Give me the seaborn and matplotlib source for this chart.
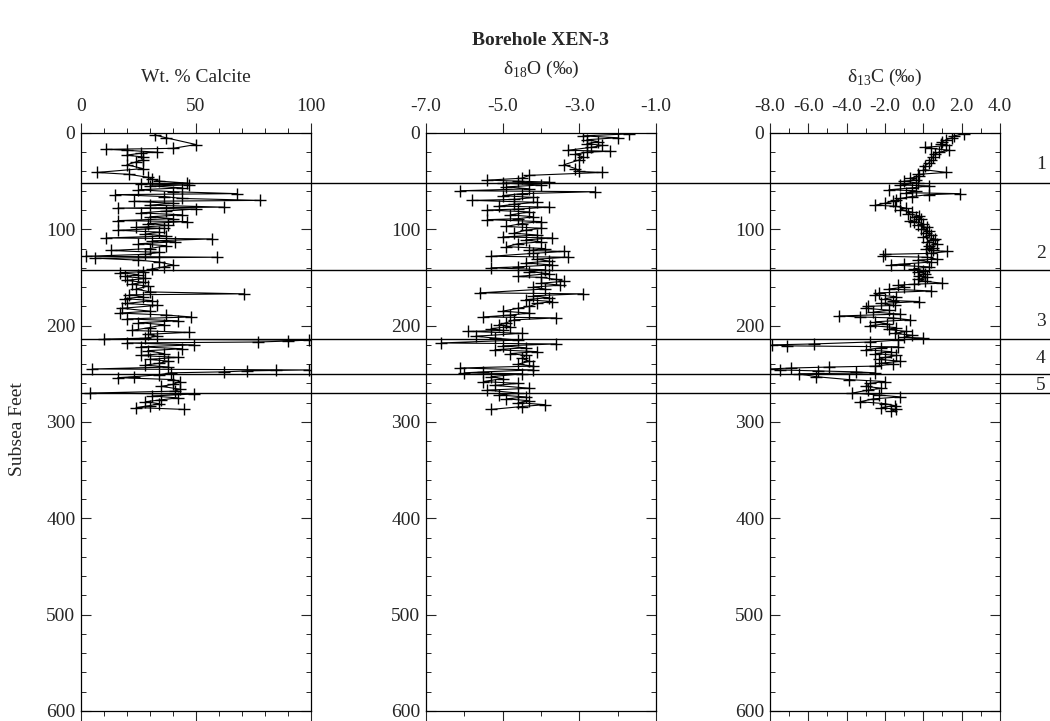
import numpy as np
import pandas as pd
import matplotlib
matplotlib.use("Agg")
import matplotlib.pyplot as plt
import matplotlib.transforms as mtransforms
from matplotlib.lines import Line2D
from matplotlib.ticker import MultipleLocator
import seaborn as sns

# Data
calcite_depth = [2, 5, 12, 16, 17, 18, 20, 21, 23, 25, 28, 30, 33, 37, 41, 43, 46, 48, 50,
                 52, 53, 54, 55, 57, 59, 61, 63, 64, 66, 68, 70, 71, 73, 75, 77, 78, 79, 81,
                 83, 85, 87, 89, 91, 92, 94, 96, 98, 99, 101, 103, 105, 107, 109, 110, 112,
                 113, 115, 117, 120, 122, 124, 126, 128, 129, 130, 132, 134, 137, 139, 141,
                 144, 145, 147, 149, 151, 153, 155, 157, 159, 162, 165, 167, 168, 170, 172,
                 174, 177, 179, 182, 185, 187, 189, 191, 193, 195, 197, 199, 202, 205, 207,
                 209, 211, 213, 214, 215, 216, 217, 218, 220, 222, 224, 226, 229, 231, 233,
                 235, 237, 239, 241, 243, 245, 246, 246.5, 247, 248, 249, 251, 253, 254, 256,
                 258, 261, 263, 266, 268, 270, 271, 273, 275, 277, 279, 281, 283, 285, 287]
calcite_pct = [32, 37, 50, 40, 11, 20, 33, 26, 20, 27, 27, 24, 20, 27, 7, 21, 29, 31, 34,
               46, 26, 47, 30, 44, 25, 40, 68, 15, 36, 44, 78, 23, 40, 30, 62, 16, 50, 37,
               26, 44, 30, 40, 16, 46, 29, 38, 24, 36, 16, 34, 28, 37, 11, 57, 31,
               41, 25, 37, 30, 13, 34, 28, 2, 59, 6, 25, 34, 40, 36, 31,
               27, 17, 25, 19, 28, 20, 27, 22, 29, 24, 30, 71, 21, 27, 19,
               31, 20, 33, 18, 30, 17, 37, 48, 20, 42, 25, 36, 30, 22, 47,
               29, 33, 28, 10, 99, 90, 77, 20, 49, 26, 44, 29, 36, 26, 42,
               30, 38, 34, 28, 38, 5, 99, 85, 72, 62, 39, 34, 23, 16, 40,
               43, 40, 35, 43, 41, 4, 49, 31, 42, 35, 28, 34, 30, 24, 45]

d18o_depth = [1, 3, 5, 7, 9, 11, 13, 15, 18, 19, 20, 22, 25, 28, 33, 37, 40, 41, 44, 47,
              49, 50, 51, 52, 54, 56, 58, 60, 61, 63, 65, 67, 69, 70, 72, 74, 76, 77, 79,
              80, 82, 85, 87, 89, 90, 92, 94, 97, 99, 101, 104, 106, 108, 109, 111, 113,
              115, 118, 120, 122, 123, 125, 128, 129, 131, 133, 135, 137, 139, 140, 142,
              144, 146, 149, 150, 152, 154, 156, 158, 160, 162, 166, 167, 169, 171, 173,
              175, 177, 180, 182, 185, 187, 189, 191, 192, 194, 197, 199, 201, 203, 205,
              206, 208, 211, 213, 215, 218, 219, 221, 223, 225, 227, 229, 231, 234, 237,
              240, 242, 244, 246, 248, 249, 250, 253, 255, 258, 260, 262, 265, 267, 270,
              272, 274, 276, 278, 280, 282, 284, 287]
d18o = [-1.7, -2.9, -2.0, -2.8, -2.5, -2.8, -2.4, -2.7, -3.3, -2.2, -2.8, -3.1, -2.9, -3.0,
        -3.4, -3.1, -3.0, -2.4, -4.3, -4.5, -5.4, -4.6, -3.8, -5.0, -4.0, -4.9, -4.3, -6.1,
        -2.6, -4.5, -5.0, -4.2, -4.7, -5.8, -4.1, -4.7, -5.1, -3.8, -4.6, -5.4, -4.3, -4.8,
        -4.2, -4.6, -5.4, -4.0, -4.5, -4.9, -4.0, -4.4, -4.7, -4.1, -5.0, -3.7, -4.4, -4.0,
        -4.6, -4.9, -3.9, -4.3, -3.4, -4.2, -5.3, -3.3, -4.1, -3.8, -4.4, -3.7, -4.6, -5.3,
        -3.9, -4.3, -3.8, -4.6, -4.0, -3.6, -3.4, -4.0, -3.5, -4.2, -3.9, -5.6, -2.9, -4.2,
        -3.8, -4.4, -3.7, -4.1, -4.3, -4.6, -5.0, -4.3, -4.8, -5.5, -3.6, -4.7, -4.9, -5.1,
        -4.8, -5.3, -5.0, -5.9, -4.5, -5.7, -5.2, -4.6, -6.6, -3.6, -5.0, -4.4, -5.2, -4.1,
        -4.8, -4.4, -4.5, -4.3, -4.6, -4.2, -6.1, -4.2, -5.5, -6.0, -4.5, -5.3, -5.0, -5.5,
        -4.6, -5.2, -4.3, -5.4, -4.6, -5.1, -4.4, -4.9, -4.3, -4.6, -3.9, -4.5, -5.3]

d13c_depth = [1, 3, 5, 7, 9, 11, 13, 15, 16, 18, 20, 22, 25, 28, 31, 34, 38, 41, 43, 45,
              47, 49, 50, 52, 54, 55, 57, 59, 60, 62, 63, 64, 66, 68, 70, 71, 73, 75, 76,
              78, 80, 82, 84, 86, 87, 89, 91, 92, 94, 96, 98, 100, 102, 104, 106, 108, 110,
              111, 113, 115, 117, 119, 120, 122, 123, 125, 126, 128, 129, 131, 132, 134,
              136, 137, 139, 141, 143, 144, 146, 148, 150, 152, 154, 156, 157, 158, 160,
              162, 164, 166, 168, 170, 172, 174, 175, 177, 179, 180, 182, 184, 186, 188,
              190, 191, 192, 194, 196, 198, 200, 202, 204, 206, 208, 210, 212, 213, 215,
              217, 219, 220, 221, 222, 223, 225, 227, 229, 231, 233, 235, 237, 239, 240,
              242, 243, 244, 245, 246, 247, 248, 249, 250, 253, 256, 258, 260, 263, 265,
              267, 270, 272, 274, 276, 279, 281, 283, 285, 287, 289]
d13c = [2.1, 1.6, 1.5, 1.2, 1.0, 0.9, 1.2, 0.1, 0.4, 1.35, 0.8, 0.6, 0.5, 0.4, 0.3, 0.1,
        0.0, 1.2, -0.3, -0.2, -0.7, -0.4, -1.0, -0.3, -1.2, 0.3, -0.6, -1.8, -0.4, -0.9,
        1.9, 0.3, -0.6, -1.2, -1.4, -1.6, -2.0, -2.5, -1.5, -0.9, -1.2, -0.6, -0.8, -0.2,
        -0.4, -0.1, -0.7, -0.5, 0.0, -0.3, 0.2, -0.1, 0.3, 0.15, 0.4, 0.0, 0.6, 0.5, 0.2,
        0.7, 0.3, 0.5, 0.15, 0.5, 1.25, 0.4, -2.0, -2.1, 0.2, 0.7, -0.3, 0.4, -1.0, -1.7,
        0.3, -0.5, 0.0, -0.3, 0.1, -0.2, 0.2, -0.3, 0.1, 1.0, -0.5, -1.3, -1.0, -1.8, 0.4,
        -2.3, -2.5, -1.4, -2.0, -1.6, -0.2, -2.2, -1.5, -2.9, -3.0, -1.8, -2.6, -1.2, -4.4,
        -3.3, -1.6, -0.7, -2.5, -1.9, -2.8, -1.4, -1.8, -0.9, -1.5, -0.6, -1.0, 0.0, -1.3,
        -2.8, -5.7, -7.9, -7.1, -1.3, -2.2, -3.0, -1.7, -2.5, -1.4, -2.0, -2.3, -1.2, -2.2,
        -1.6, -2.5, -4.9, -6.9, -8.0, -7.5, -5.5, -3.5, -2.5, -6.5, -5.6, -3.9, -2.0, -2.8,
        -3.0, -2.2, -2.9, -3.7, -2.3, -1.2, -2.6, -3.3, -2.0, -1.5, -2.2, -1.4, -1.7]

# Zone boundaries and labels
zone_depth = [51.5, 142.5, 214, 250, 270]
zone_names = ["1", "2", "3", "4", "5"]
zone_label_depth = [33, 125, 196, 234, 262]

calcite_ticks = [0, 50, 100]
d18o_ticks = [-7.0, -5.0, -3.0, -1.0]
d13c_ticks = [-8.0, -6.0, -4.0, -2.0, 0.0, 2.0, 4.0]
depth_ticks = [0, 100, 200, 300, 400, 500, 600]

sns.set_style("ticks")
plt.rcParams["font.family"] = ["Liberation Serif", "DejaVu Serif"]
plt.rcParams["mathtext.fontset"] = "custom"
plt.rcParams["mathtext.rm"] = "Liberation Serif"
plt.rcParams["axes.unicode_minus"] = False

fig = plt.figure(figsize=(10.5, 7.21), dpi=100)

# left edge, depths, values, major ticks, minor step, label format, header, header height
panels = [
    (0.0771, calcite_depth, calcite_pct, calcite_ticks, 10, "{:.0f}", "Wt. % Calcite", 0.892),
    (0.4057, d18o_depth, d18o, d18o_ticks, 1, "{:.1f}", r"δ$_{\mathrm{18}}$O (‰)", 0.903),
    (0.7333, d13c_depth, d13c, d13c_ticks, 1, "{:.1f}", r"δ$_{\mathrm{13}}$C (‰)", 0.892),
]

axes = []
for left, depth, vals, ticks, minor, fmt, label, ty in panels:
    ax = fig.add_axes([left, 0.0139, 0.219, 0.8017])
    df = pd.DataFrame({"value": vals, "depth": depth})
    sns.lineplot(data=df, x="value", y="depth", sort=False, estimator=None,
                 orient="y", color="black", linewidth=0.8, marker="+",
                 markersize=9, markeredgewidth=1.0, markeredgecolor="black", ax=ax)
    ax.set_xlim(ticks[0], ticks[-1])
    ax.set_ylim(600, 0)
    ax.set_xticks(ticks)
    ax.set_xticklabels([fmt.format(t) for t in ticks])
    ax.xaxis.set_minor_locator(MultipleLocator(minor))
    ax.set_yticks(depth_ticks)
    ax.yaxis.set_minor_locator(MultipleLocator(20))
    ax.tick_params(axis="x", which="both", top=True, bottom=True, labeltop=True,
                   labelbottom=False, direction="out", labelsize=14, pad=6)
    ax.tick_params(axis="y", which="both", left=True, right=True, direction="in",
                   labelsize=14, pad=4)
    ax.tick_params(which="major", length=7, width=0.8)
    ax.tick_params(which="minor", length=3.5, width=0.7)
    ax.set_xlabel("")
    ax.set_ylabel("")
    for s in ax.spines.values():
        s.set_linewidth(0.9)
        s.set_color("black")
    fig.text(left + 0.1095, ty, label, ha="center", va="center", fontsize=14)
    axes.append(ax)

fig.text(0.515, 0.9445, "Borehole XEN-3", ha="center", va="center",
         fontsize=14, fontweight="bold")
fig.text(0.017, 0.405, "Subsea Feet", ha="center", va="center", rotation=90, fontsize=14)

# zone lines across all panels, from the first panel to the right edge
trans = mtransforms.blended_transform_factory(fig.transFigure, axes[0].transData)
x0 = axes[0].get_position().x0
for d in zone_depth:
    fig.add_artist(Line2D([x0, 1.0], [d, d], transform=trans, color="black", linewidth=1.0))
for d, name in zip(zone_label_depth, zone_names):
    fig.text(0.996, d, name, transform=trans, ha="right", va="center", fontsize=14)

fig.savefig("out.png", dpi=100)
